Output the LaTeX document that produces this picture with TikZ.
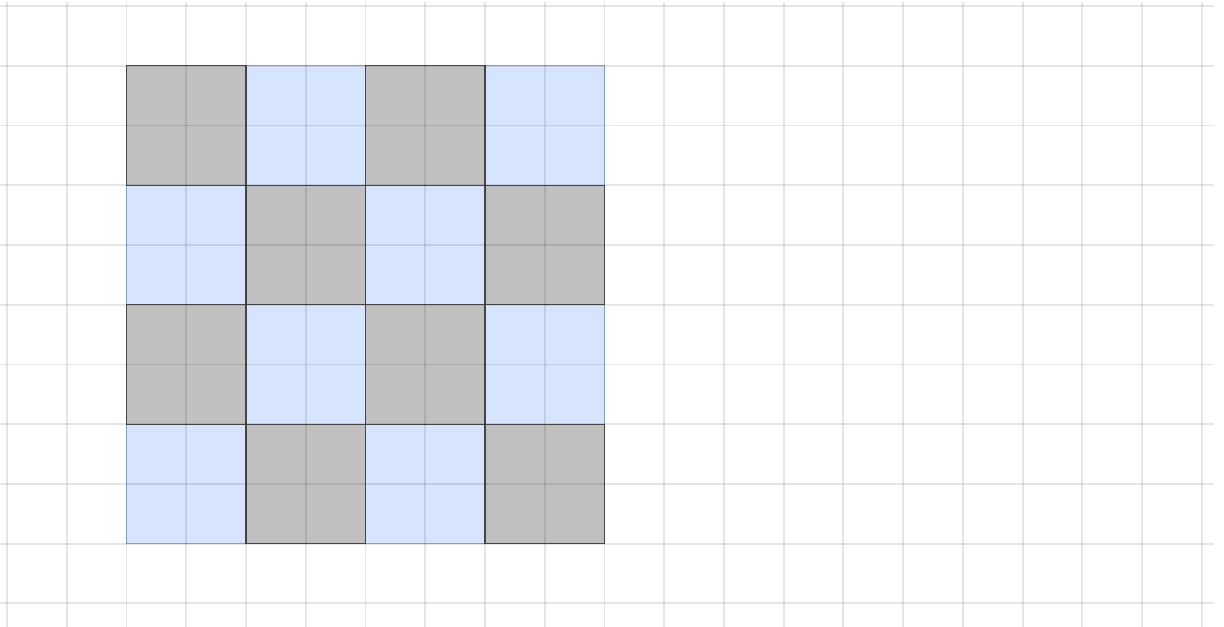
\documentclass[tikz,border=0pt]{standalone}
\usepackage{xcolor}
\definecolor{chkgray}{HTML}{C0C0C0}
\definecolor{chkgrayline}{HTML}{4D4D4D}
\definecolor{chkblue}{HTML}{D6E4FD}
\definecolor{chkblueline}{HTML}{8DB0E6}
\usepackage{tikz}
\usetikzlibrary{positioning}
\tikzset{
  grayblock/.style={fill=chkgray,draw=chkgrayline,line width=0.6pt},
  blueblock/.style={fill=chkblue,draw=chkblueline,line width=0.6pt},
  gridline/.style={draw=black,draw opacity=0.1,line width=0.9pt}
}

\begin{document}
\begin{tikzpicture}[x=1cm,y=-1cm]
\useasboundingbox (-0.117,-0.1) rectangle (20.37,10.39);
% blue blocks first, gray ones over them
\foreach \r in {0,...,3}{
  \foreach \c in {0,...,3}{
    \pgfmathtruncatemacro{\blkodd}{mod(\r+\c,2)}
    \ifnum\blkodd=1
      \path[blueblock] ({2+2*\c},{1+2*\r}) rectangle ++(2,2);
    \fi
  }
}
\foreach \r in {0,...,3}{
  \foreach \c in {0,...,3}{
    \pgfmathtruncatemacro{\blkodd}{mod(\r+\c,2)}
    \ifnum\blkodd=0
      \path[grayblock] ({2+2*\c},{1+2*\r}) rectangle ++(2,2);
    \fi
  }
}
% the grid on top
\foreach \i in {0,...,20}
  \path[gridline] (\i,-0.067) -- (\i,10.39);
\foreach \j in {0,...,10}
  \path[gridline] (-0.117,\j) -- (20.2,\j);
\end{tikzpicture}
\end{document}
